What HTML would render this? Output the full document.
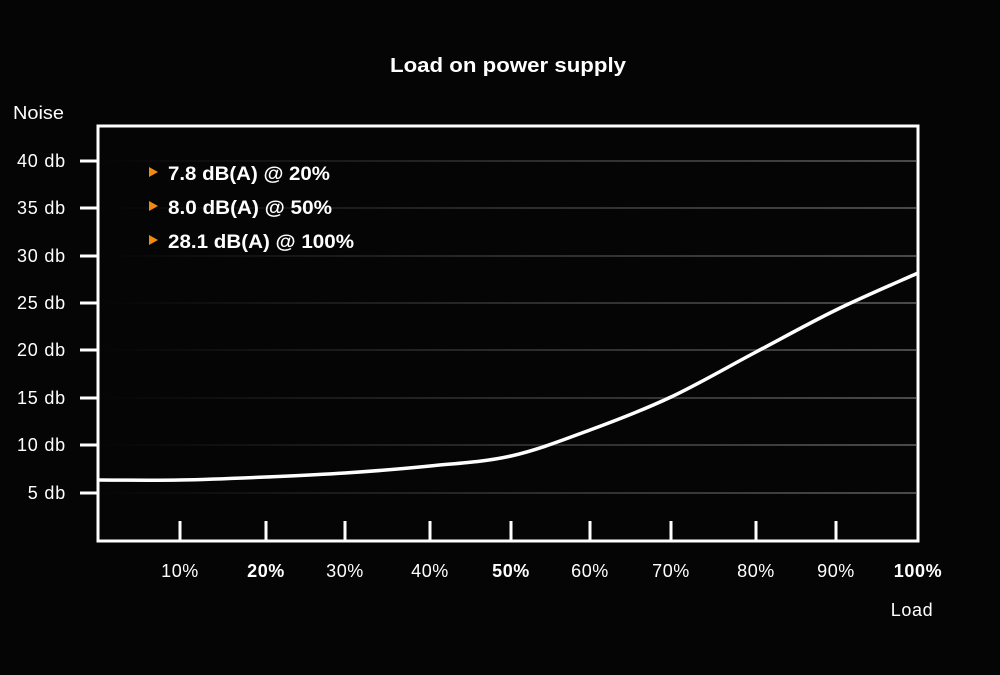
<!DOCTYPE html>
<html><head><meta charset="utf-8"><style>
html,body{margin:0;padding:0;background:#050506;}
svg{display:block;font-family:"Liberation Sans",Arial,sans-serif;}
</style></head><body>
<svg width="1000" height="675" viewBox="0 0 1000 675" xmlns="http://www.w3.org/2000/svg">
<defs>
<linearGradient id="g" x1="0" x2="1" y1="0" y2="0">
<stop offset="0" stop-color="#444" stop-opacity="0"/>
<stop offset="0.5" stop-color="#444" stop-opacity="0.6"/>
<stop offset="1" stop-color="#4a4a4a" stop-opacity="1"/>
</linearGradient>
</defs>
<rect width="1000" height="675" fill="#050506"/>
<text x="390" y="72" fill="#fff" font-size="20" font-weight="bold" textLength="236" lengthAdjust="spacingAndGlyphs">Load on power supply</text>
<text x="13" y="119" fill="#fff" font-size="18" textLength="51" lengthAdjust="spacingAndGlyphs">Noise</text>
<g fill="url(#g)">
<rect x="100" y="160" width="816" height="2"/>
<rect x="100" y="207" width="816" height="2"/>
<rect x="100" y="255" width="816" height="2"/>
<rect x="100" y="302" width="816" height="2"/>
<rect x="100" y="349" width="816" height="2"/>
<rect x="100" y="397" width="816" height="2"/>
<rect x="100" y="444" width="816" height="2"/>
<rect x="100" y="492" width="816" height="2"/>
</g>
<g stroke="#fff" stroke-width="3">
<line x1="80" y1="161" x2="98" y2="161"/>
<line x1="80" y1="208" x2="98" y2="208"/>
<line x1="80" y1="256" x2="98" y2="256"/>
<line x1="80" y1="303" x2="98" y2="303"/>
<line x1="80" y1="350" x2="98" y2="350"/>
<line x1="80" y1="398" x2="98" y2="398"/>
<line x1="80" y1="445" x2="98" y2="445"/>
<line x1="80" y1="493" x2="98" y2="493"/>
<line x1="180" y1="521" x2="180" y2="541"/>
<line x1="266" y1="521" x2="266" y2="541"/>
<line x1="345" y1="521" x2="345" y2="541"/>
<line x1="430" y1="521" x2="430" y2="541"/>
<line x1="511" y1="521" x2="511" y2="541"/>
<line x1="590" y1="521" x2="590" y2="541"/>
<line x1="671" y1="521" x2="671" y2="541"/>
<line x1="756" y1="521" x2="756" y2="541"/>
<line x1="836" y1="521" x2="836" y2="541"/>
<rect x="98" y="126" width="820" height="415" fill="none"/>
<path d="M98,480 C111.7,480 152,480.5 180,480 C208,479.5 238.5,478.2 266,477 C293.5,475.8 317.7,474.8 345,473 C372.3,471.2 402.3,468.8 430,466 C457.7,463.2 484.3,462 511,456 C537.7,450 563.3,439.8 590,430 C616.7,420.2 643.3,410 671,397 C698.7,384 728.5,366.5 756,352 C783.5,337.5 809,323.2 836,310 C863,296.8 904.3,279.2 918,273" fill="none" stroke-width="3.5"/>
</g>
<g fill="#fff" font-size="18" text-anchor="end" letter-spacing="0.8">
<text x="66" y="167">40 db</text>
<text x="66" y="214">35 db</text>
<text x="66" y="262">30 db</text>
<text x="66" y="309">25 db</text>
<text x="66" y="356">20 db</text>
<text x="66" y="404">15 db</text>
<text x="66" y="451">10 db</text>
<text x="66" y="499">5 db</text>
</g>
<g fill="#fff" font-size="18" text-anchor="middle" letter-spacing="0.6">
<text x="180" y="577">10%</text>
<text x="266" y="577" font-weight="bold">20%</text>
<text x="345" y="577">30%</text>
<text x="430" y="577">40%</text>
<text x="511" y="577" font-weight="bold">50%</text>
<text x="590" y="577">60%</text>
<text x="671" y="577">70%</text>
<text x="756" y="577">80%</text>
<text x="836" y="577">90%</text>
<text x="918" y="577" font-weight="bold">100%</text>
<text x="912" y="616">Load</text>
</g>
<g fill="#f08a12">
<polygon points="149,167 149,177 158,172"/>
<polygon points="149,201 149,211 158,206"/>
<polygon points="149,235 149,245 158,240"/>
</g>
<g fill="#fff" font-size="19" font-weight="bold">
<text x="168" y="180" textLength="162" lengthAdjust="spacingAndGlyphs">7.8 dB(A) @ 20%</text>
<text x="168" y="214" textLength="164" lengthAdjust="spacingAndGlyphs">8.0 dB(A) @ 50%</text>
<text x="168" y="248" textLength="186" lengthAdjust="spacingAndGlyphs">28.1 dB(A) @ 100%</text>
</g>
</svg>
</body></html>
